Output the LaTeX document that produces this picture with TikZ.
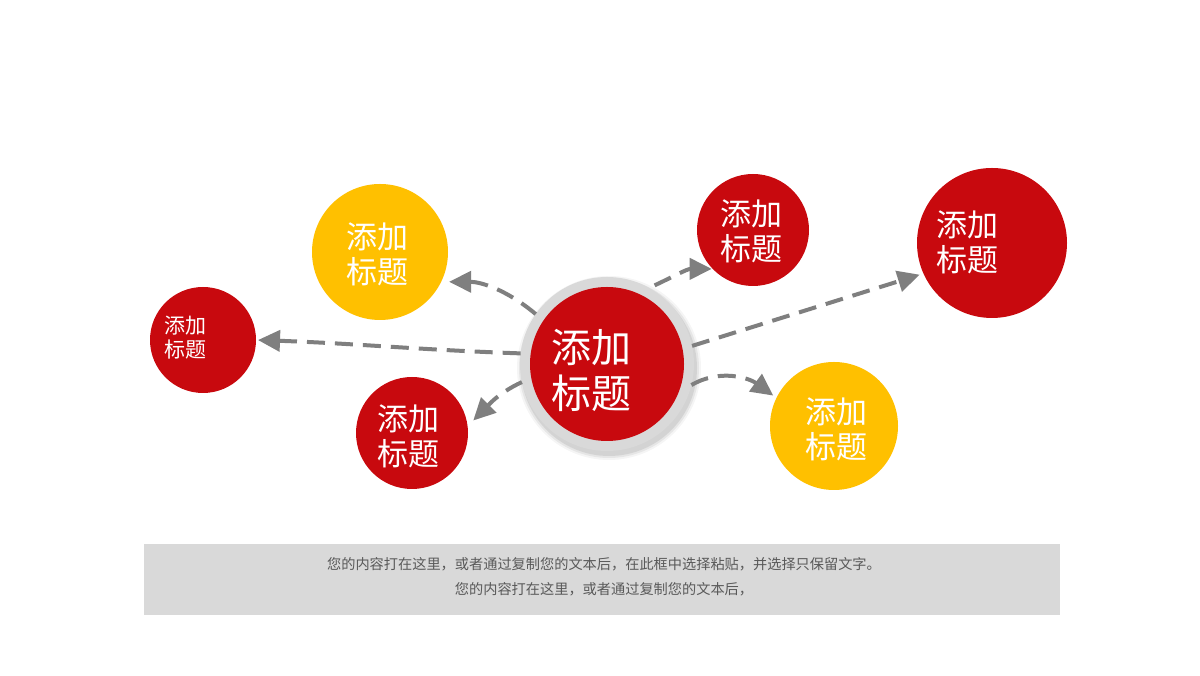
\documentclass[tikz,border=0pt]{standalone}
\usepackage{fontspec}
\setmainfont{Noto Sans CJK SC}
\usetikzlibrary{arrows.meta}
\definecolor{cred}{HTML}{C8090E}
\definecolor{cyellow}{HTML}{FFC000}
\definecolor{ringgray}{HTML}{D9D9D9}
\definecolor{arrowgray}{HTML}{7F7F7F}
\definecolor{boxgray}{HTML}{D9D9D9}
\definecolor{textgray}{HTML}{595959}
\tikzset{
  bubble/.style={circle, inner sep=0pt, outer sep=0pt, draw=none},
  lbl/.style={align=center, text=white, inner sep=0pt},
  conn/.style={draw=arrowgray, line width=4pt, dash pattern=on 18pt off 10pt,
    -{Triangle[length=22pt,width=21pt]}},
}
\begin{document}
\begin{tikzpicture}[x=1pt,y=1pt]
\useasboundingbox (0,0) rectangle (1200,676);
\fill[white] (0,0) rectangle (1200,676);

% bottom text box
\fill[boxgray] (144,61) rectangle (1060,132);
\node[align=center, text=textgray, font=\fontsize{14.2}{25}\selectfont, inner sep=0pt] (note) at (604,99.5)
  {您的内容打在这里，或者通过复制您的文本后，在此框中选择粘贴，并选择只保留文字。\\您的内容打在这里，或者通过复制您的文本后，};

% central shadow + ring
\foreach \r/\o in {92/0.04,90/0.06,88/0.08}{
  \fill[black, opacity=\o] (609,308) circle (\r);
}
\node[bubble, fill=ringgray, minimum size=174pt] (ring) at (607,312) {};
\node[bubble, fill=cred, minimum size=154pt] (c) at (607,312) {};
\node[lbl, font=\fontsize{40}{46}\selectfont] (ctxt) at (591,306) {添加\\标题};

% satellite circles
\node[bubble, fill=cyellow, minimum size=136pt] (tl) at (380,424) {};
\node[lbl, font=\fontsize{31}{35}\selectfont] (tltxt) at (377,422) {添加\\标题};

\node[bubble, fill=cred, minimum size=112pt] (tm) at (753,446) {};
\node[lbl, font=\fontsize{31}{35}\selectfont] (tmtxt) at (751,445) {添加\\标题};

\node[bubble, fill=cred, minimum size=150pt] (rr) at (992,433) {};
\node[lbl, font=\fontsize{31}{35}\selectfont] (rrtxt) at (967,434) {添加\\标题};

\node[bubble, fill=cred, minimum size=106pt] (fl) at (203,336) {};
\node[lbl, font=\fontsize{21}{24}\selectfont] (fltxt) at (185,338) {添加\\标题};

\node[bubble, fill=cred, minimum size=112pt] (bl) at (412,243) {};
\node[lbl, font=\fontsize{31}{35}\selectfont] (bltxt) at (408,240) {添加\\标题};

\node[bubble, fill=cyellow, minimum size=128pt] (br) at (834,250) {};
\node[lbl, font=\fontsize{31}{35}\selectfont] (brtxt) at (836,247) {添加\\标题};

% connectors
\draw[conn, shorten >=8pt] (ring.145) to[out=140,in=0] (tl.-26);
\draw[conn, shorten >=2pt] (ring.173) to[out=178,in=-2] (fl.0);
\draw[conn, shorten >=8pt] (ring.192) to[out=205,in=45] (bl.7);
\draw[conn, shorten <=6pt, shorten >=1pt] (ring.61) to[out=25,in=180] (tm.224);
\draw[conn, shorten >=4pt] (ring.12.6) -- (rr.204);
\draw[conn, shorten >=4pt] (ring.-14) to[out=30,in=144] (br.154);
\end{tikzpicture}
\end{document}
